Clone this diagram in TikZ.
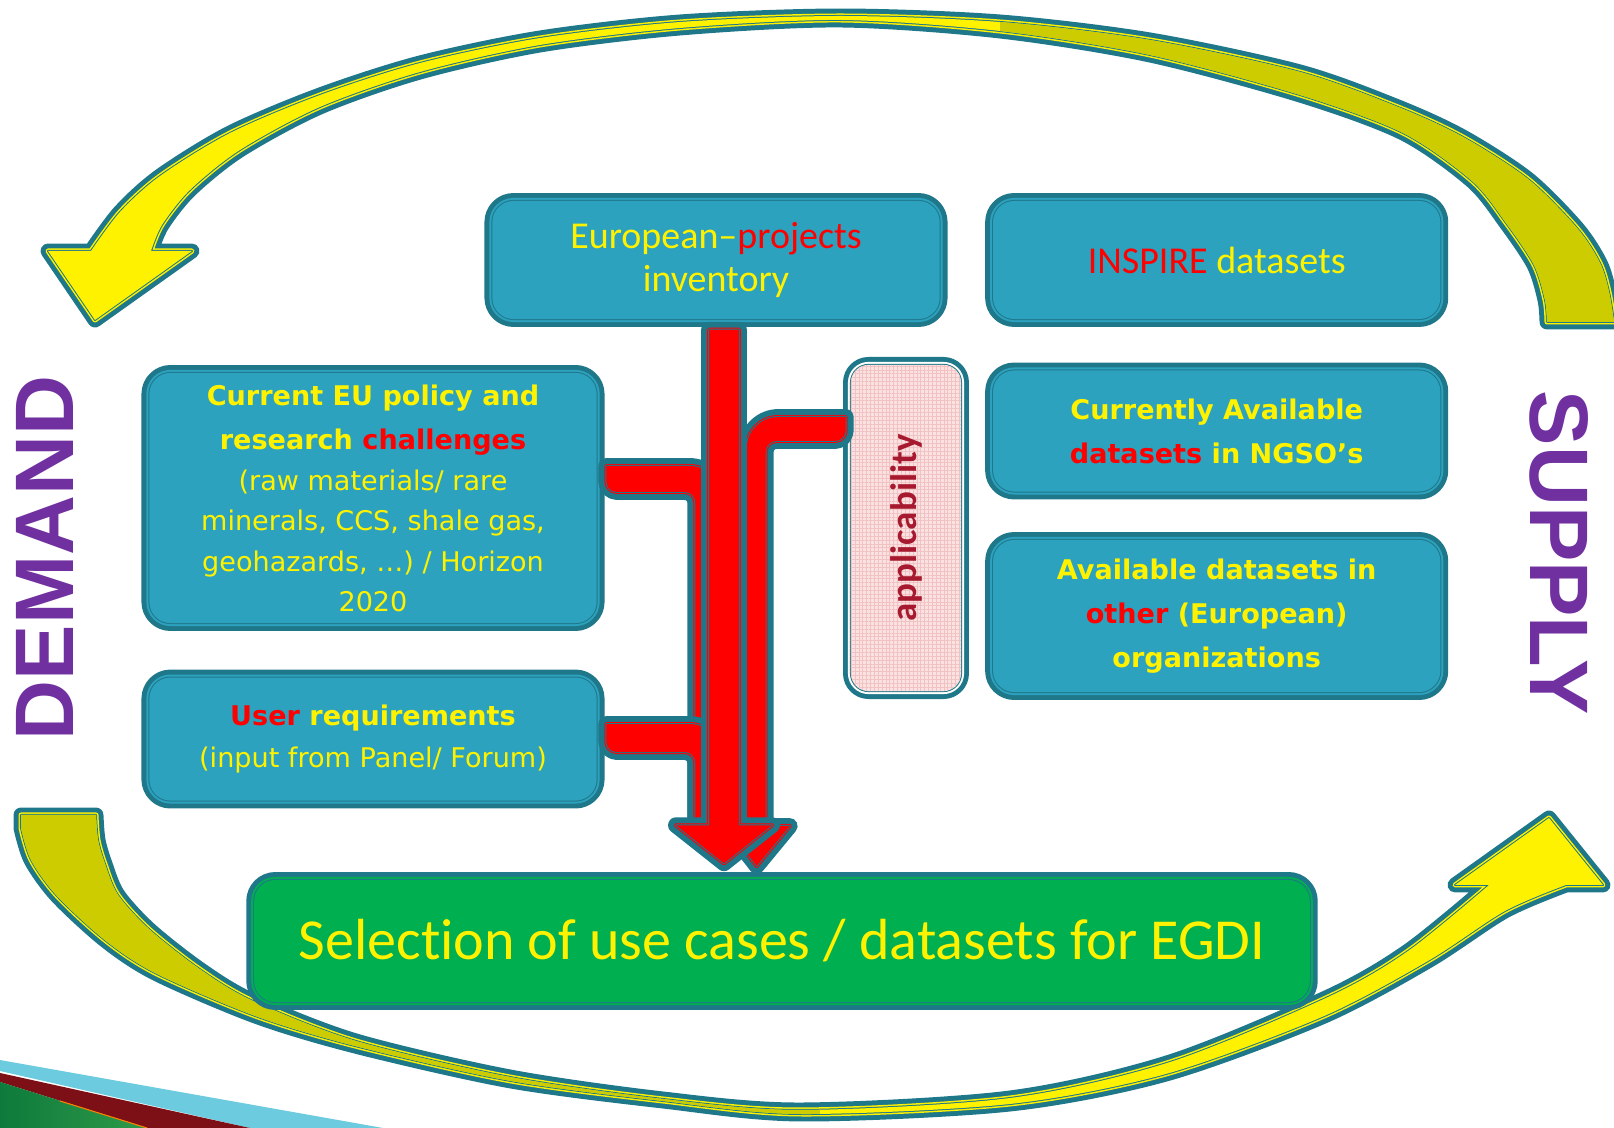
\documentclass[tikz,border=0pt]{standalone}
\usepackage{fontspec}
\setmainfont{Carlito}[Ligatures={TeX,NoCommon}]
\newfontfamily\verafont{DejaVu Sans}
\newfontfamily\bannerfont{Liberation Sans}
\usetikzlibrary{positioning, calc, patterns.meta}

\definecolor{boxfill}{HTML}{2CA2BE}
\definecolor{tealedge}{HTML}{1F778A}
\definecolor{selgreen}{HTML}{00AF50}
\definecolor{olivetone}{HTML}{CCCC00}
\definecolor{banner}{HTML}{7030A0}
\definecolor{pinkfill}{HTML}{FBE1E1}
\definecolor{pinkgrid}{HTML}{F0C2C2}
\definecolor{appred}{HTML}{A6192E}
\definecolor{skyband}{HTML}{6DCBDF}
\definecolor{wineband}{HTML}{7D1016}
\definecolor{darkleaf}{HTML}{0E7A3C}
\definecolor{lightleaf}{HTML}{2E9A48}

\begin{document}
\begin{tikzpicture}[x=0.01cm,y=-0.01cm,line join=round]
                \tikzstyle{frame}=[rectangle,rounded corners=6pt,inner sep=0pt,align=center,
                        preaction={draw=tealedge,line width=4.5pt}]
                \tikzstyle{box}=[frame,preaction={draw=boxfill,line width=1.7pt},
                        preaction={draw=tealedge,line width=0.57pt},fill=boxfill,text=yellow,
                        minimum width=4.47cm]
                \tikzstyle{greenbox}=[frame,preaction={draw=selgreen,line width=1.7pt},
                        preaction={draw=tealedge,line width=0.57pt},fill=selgreen,text=yellow]
                \tikzstyle{pinkbox}=[frame,rounded corners=5pt,preaction={draw=white,line width=1.7pt},
                        preaction={draw=tealedge,line width=0.57pt},preaction={fill=pinkfill},
                        pattern={Hatch[distance=1.1pt,line width=0.15pt]},pattern color=pinkgrid,text=appred]
                \tikzstyle{flow}=[preaction={draw=tealedge,line width=4.5pt},
                        preaction={draw=red,line width=1.13pt},
                        preaction={draw=tealedge,line width=0.57pt},fill=red]
                \tikzstyle{ribbon}=[preaction={draw=tealedge,line width=4.25pt},
                        preaction={draw=yellow,line width=1.42pt},
                        preaction={draw=tealedge,line width=0.57pt},fill=yellow]
                \tikzstyle{banner}=[text=banner,font=\bannerfont\bfseries\fontsize{23.6}{24}\selectfont]

                \useasboundingbox (0,0) rectangle (1614,1128);

                % corner stripes
                \fill[skyband] (0,1060) -- (383,1128) -- (250,1128) -- (0,1071) -- cycle;
                \fill[wineband] (0,1073) -- (250,1128) -- (147,1128) -- (0,1082) -- cycle;
                \shade[left color=darkleaf,right color=lightleaf] (0,1082) -- (147,1128) -- (0,1128) -- cycle;
                \draw[orange,line width=0.3pt] (60,1101) -- (147,1128);

                % cycle arrows
                \path[ribbon,path picture={\fill[olivetone] (1000,-20) rectangle (1700,400);}]
                (95,320) -- (48,251) -- (91,251)
                -- plot[smooth] coordinates {(91,251) (120,212) (160,176) (230,133) (320,95) (420,63)
                        (540,38) (680,22) (840,16) (1000,22) (1150,40) (1300,72) (1398,107) (1463,137)
                        (1528,179) (1577,228) (1600,263) (1609,292) (1614,322)}
                -- (1547,322)
                -- plot[smooth] coordinates {(1547,322) (1545,300) (1534,265) (1506,223) (1472,181)
                        (1403,133) (1300,95) (1150,55) (1000,31) (840,20) (680,28) (540,45) (420,72)
                        (320,107) (240,150) (190,190) (162,225) (151,251)}
                -- (192,251) -- cycle;
                \path[ribbon,path picture={\fill[olivetone] (-20,700) rectangle (820,1150);}]
                (21,815) -- (96,815)
                -- plot[smooth] coordinates {(96,815) (98,840) (105,864) (118,895) (150,930) (201,970)
                        (253,1001) (356,1041) (510,1077) (663,1099) (800,1110) (1010,1098) (1170,1062)
                        (1328,997) (1408,951) (1489,885)}
                -- (1455,885) -- (1549,818) -- (1603,885) -- (1566,885)
                -- plot[smooth] coordinates {(1566,885) (1505,911) (1428,961) (1322,1017) (1166,1074)
                        (1010,1104) (800,1114) (663,1101) (511,1081) (359,1047) (258,1017) (157,974)
                        (106,941) (57,896) (31,860) (21,828)}
                -- cycle;

                % boxes
                \node[box,minimum height=1.18cm,font=\fontsize{10.8}{12.2}\selectfont]
                        (projects) at (716,260) {European–\textcolor{red}{projects}\\inventory};
                \node[box,minimum height=1.18cm,font=\fontsize{10.8}{12.2}\selectfont]
                        (inspire) [right=0.52cm of projects] {\textcolor{red}{INSPIRE} datasets};
                \node[box,minimum height=1.21cm,font=\verafont\bfseries\fontsize{7.7}{12.5}\selectfont]
                        (ngso) [below=0.5cm of inspire] {Currently Available\\\textcolor{red}{datasets} in NGSO’s};
                \node[box,minimum height=1.52cm,font=\verafont\bfseries\fontsize{7.7}{12.6}\selectfont]
                        (other) [below=0.47cm of ngso] {Available datasets in\\\textcolor{red}{other} (European)\\organizations};
                \node[box,minimum height=2.50cm,font=\verafont\fontsize{7.7}{11.4}\selectfont]
                        (policy) at (373,498) {{\bfseries Current EU policy and}\\[1.2pt]
                        {\bfseries research \textcolor{red}{challenges}}\\[0.4pt]
                        (raw materials/ rare\\minerals, CCS, shale gas,\\geohazards, …) / Horizon\\2020};
                \node[box,minimum height=1.23cm,font=\verafont\fontsize{7.7}{11.8}\selectfont]
                        (userreq) [below=0.53cm of policy] {{\bfseries\textcolor{red}{User} requirements}\\
                        (input from Panel/ Forum)};
                \node[pinkbox,minimum width=1.10cm,minimum height=3.26cm,
                        font=\bfseries\fontsize{10.5}{12}\selectfont]
                        (appl) at (906,528) {\rotatebox{90}{applicability}};
                \node[greenbox,minimum width=10.55cm,minimum height=1.22cm,
                        font=\fontsize{16.5}{20}\selectfont]
                        (selection) at (782,941) {Selection of use cases / datasets for EGDI};

                \node[banner,rotate=90]  (demand) at (45,558)   {DEMAND};
                \node[banner,rotate=-90] (supply) at (1559,553) {SUPPLY};

                % red flows into the selection
                \coordinate (trunk) at (724,0);
                \path[flow] ($(appl.west)+(-5,-111)$) [rounded corners=9pt] -- ++(-99,0) -- ++(0,150)
                        [sharp corners] -- ++(0,259) -- ++(-21,0) -- ++(31,40) -- ++(33,-40) -- ++(-24,0)
                        -- ++(0,-259) [rounded corners=3pt] -- ++(0,-126) -- ++(80,0) [sharp corners] -- cycle;
                \path[flow] ($(policy.east)+(9,-32)$) [rounded corners=9pt] -- ++(115,0) -- ++(0,150)
                        [sharp corners] -- ++(0,210) -- ++(-26,0) -- ++(0,-210)
                        [rounded corners=3pt] -- ++(0,-124) -- ++(-89,0) [sharp corners] -- cycle;
                \path[flow] ($(userreq.east)+(9,-15)$) [rounded corners=9pt] -- ++(115,0) -- ++(0,50)
                        [sharp corners] -- ++(0,53) -- ++(-26,0) -- ++(0,-53)
                        [rounded corners=3pt] -- ++(0,-22) -- ++(-89,0) [sharp corners] -- cycle;
                \path[flow] ($(trunk |- projects.south)+(-15,10)$) -- ++(30,0)
                        -- ($(trunk |- selection.north)+(15,-54)$) -- ++(33,0)
                        -- ($(trunk |- selection.north)+(0,-16)$) -- ++(-48,-38) -- ++(33,0) -- cycle;
\end{tikzpicture}
\end{document}
